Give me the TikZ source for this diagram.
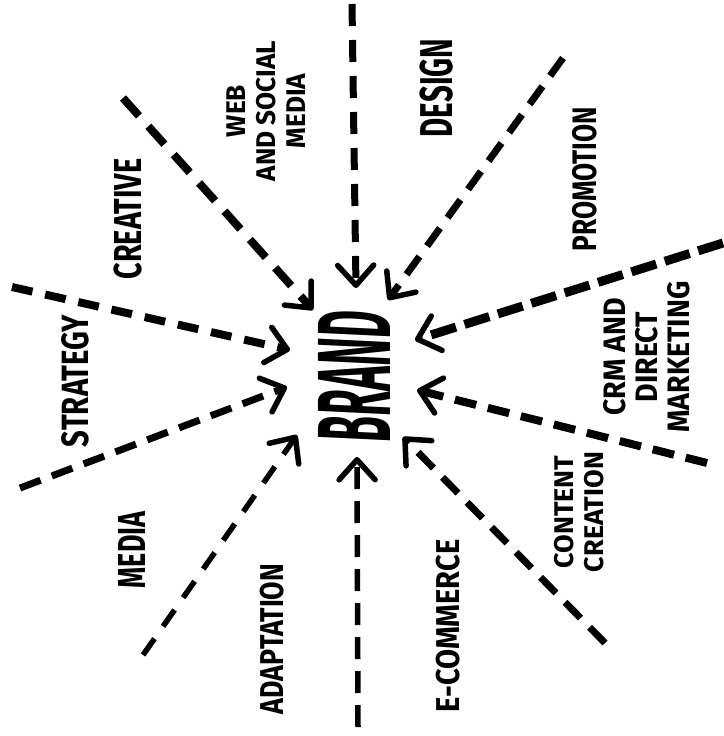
\documentclass[tikz,border=0pt]{standalone}
\usepackage{fontspec}
\usetikzlibrary{arrows.meta}
\newfontfamily\handfont{Fira Sans}
\tikzset{
  lab/.style={rotate=90, align=center, inner sep=0pt, text=black},
  spoke/.style={line width=#1, line cap=butt,
    -{Straight Barb[length=20pt,width=36pt,line width=5.5pt,round]}},
}
\begin{document}
\begin{tikzpicture}[x=1pt,y=-1pt]
\useasboundingbox[fill=white] (0,0) rectangle (723,736);
% centre word
\node[lab, xscale=0.4, xslant=0.12, font=\handfont\bfseries\fontsize{104}{110}\selectfont] (brand) at (354,376) {BRAND};
% labels
\node[lab, xscale=0.64, font=\handfont\bfseries\fontsize{46}{50}\selectfont] (design) at (437,88) {DESIGN};
\node[lab, xscale=0.74, font=\handfont\bfseries\fontsize{39}{43}\selectfont] (creative) at (128,219) {CREATIVE};
\node[lab, xscale=0.77, font=\handfont\bfseries\fontsize{34}{38}\selectfont] (promo) at (585,179) {PROMOTION};
\node[lab, xscale=0.77, font=\handfont\bfseries\fontsize{38}{42}\selectfont] (strat) at (75,381) {STRATEGY};
\node[lab, xscale=0.69, font=\handfont\bfseries\fontsize{39}{43}\selectfont] (media) at (132,550) {MEDIA};
\node[lab, xscale=0.81, font=\handfont\bfseries\fontsize{33}{36}\selectfont] (adapt) at (272,639) {ADAPTATION};
\node[lab, xscale=0.88, font=\handfont\bfseries\fontsize{33}{36}\selectfont] (ecom) at (448,626) {E-COMMERCE};
\node[lab, xscale=0.97, font=\handfont\bfseries\fontsize{27}{30}\selectfont] (web) at (266,111) {WEB\\AND SOCIAL\\MEDIA};
\node[lab, xscale=1.0, font=\handfont\bfseries\fontsize{27}{30}\selectfont] (content) at (579,512) {CONTENT\\CREATION};
\node[lab, xscale=0.92, font=\handfont\bfseries\fontsize{31}{32}\selectfont] (crm) at (647,357) {CRM AND\\DIRECT\\MARKETING};
% spoke ends
\coordinate (s1) at (352,4);    \coordinate (t1) at (356,288);
\coordinate (s2) at (123,98);   \coordinate (t2) at (313,310);
\coordinate (s3) at (563,58);   \coordinate (t3) at (388,300);
\coordinate (s4) at (723,243);  \coordinate (t4) at (415,340);
\coordinate (s5) at (707,463);  \coordinate (t5) at (417,390);
\coordinate (s6) at (12,287);   \coordinate (t6) at (290,350);
\coordinate (s7) at (20,488);   \coordinate (t7) at (287,387);
\coordinate (s8) at (143,655);  \coordinate (t8) at (297,435);
\coordinate (s9) at (358,727);  \coordinate (t9) at (357,457);
\coordinate (s10) at (605,643); \coordinate (t10) at (403,437);
% spokes
\draw[spoke=7pt, dash pattern=on 22pt off 14pt] (s1) -- (t1);
\draw[spoke=8pt, dash pattern=on 24pt off 14pt] (s2) -- (t2);
\draw[spoke=7pt, dash pattern=on 22pt off 13pt] (s3) -- (t3);
\draw[spoke=9pt, dash pattern=on 26pt off 9pt] (s4) -- (t4);
\draw[spoke=8pt, dash pattern=on 22pt off 12pt] (s5) -- (t5);
\draw[spoke=8pt, dash pattern=on 21pt off 13pt] (s6) -- (t6);
\draw[spoke=7pt, dash pattern=on 22pt off 12pt] (s7) -- (t7);
\draw[spoke=5.5pt, dash pattern=on 20pt off 15pt] (s8) -- (t8);
\draw[spoke=5.5pt, dash pattern=on 22pt off 12pt] (s9) -- (t9);
\draw[spoke=7pt, dash pattern=on 22pt off 13pt] (s10) -- (t10);
\end{tikzpicture}
\end{document}
